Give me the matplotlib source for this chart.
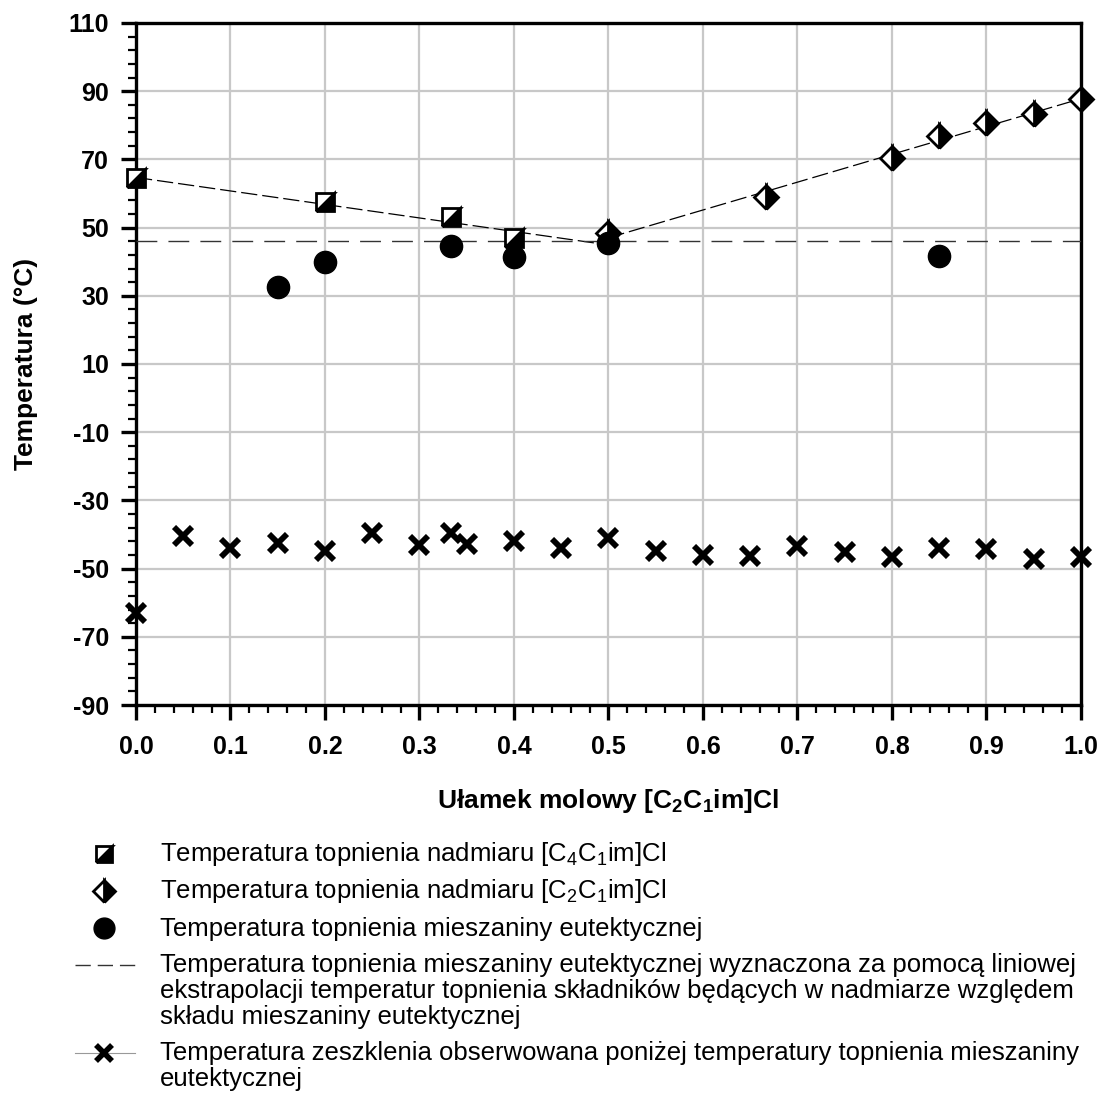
import matplotlib
matplotlib.use("Agg")
import matplotlib.pyplot as plt
from matplotlib.markers import MarkerStyle
from matplotlib.transforms import Affine2D
from matplotlib.lines import Line2D

plt.rcParams['font.family'] = ['Liberation Sans', 'DejaVu Sans']
plt.rcParams['mathtext.fontset'] = 'custom'
plt.rcParams['mathtext.rm'] = 'Liberation Sans'
plt.rcParams['mathtext.bf'] = 'Liberation Sans:bold'
plt.rcParams['axes.unicode_minus'] = False

# nadmiar [C4C1im]Cl
x_c4 = [0.0, 0.2, 0.333, 0.4]
t_c4 = [64.5, 57.4, 53.0, 46.9]
# nadmiar [C2C1im]Cl
x_c2 = [0.5, 0.667, 0.8, 0.85, 0.9, 0.95, 1.0]
t_c2 = [48.3, 58.9, 70.5, 77.0, 80.6, 83.3, 87.8]
# mieszanina eutektyczna
x_eut = [0.15, 0.2, 0.333, 0.4, 0.5, 0.85]
t_eut = [32.7, 39.8, 44.6, 41.5, 45.4, 41.7]
# ekstrapolacja
t_eut_extrap = 46.2
x_fit_left = [0.0, 0.49]
t_fit_left = [64.7, 45.3]
x_fit_right = [0.5, 1.0]
t_fit_right = [47.0, 87.8]
# zeszklenie
x_glass = [0.0, 0.05, 0.1, 0.15, 0.2, 0.25, 0.3, 0.333, 0.35, 0.4, 0.45,
           0.5, 0.55, 0.6, 0.65, 0.7, 0.75, 0.8, 0.85, 0.9, 0.95, 1.0]
t_glass = [-62.9, -40.4, -44.1, -42.4, -44.7, -39.6, -43.1, -39.5, -42.9, -41.8, -44.1,
           -41.1, -44.7, -46.0, -46.2, -43.4, -45.2, -46.5, -43.9, -44.3, -47.3, -46.5]

x_ticks = [0.0, 0.1, 0.2, 0.3, 0.4, 0.5, 0.6, 0.7, 0.8, 0.9, 1.0]
y_ticks = [-90, -70, -50, -30, -10, 10, 30, 50, 70, 90, 110]

sq_marker = MarkerStyle('D', fillstyle='right', transform=Affine2D().rotate_deg(-45))
dm_marker = MarkerStyle('D', fillstyle='right')

fig = plt.figure(figsize=(11.12, 11.04), dpi=100)
ax = fig.add_axes([0.1223, 0.3614, 0.8498, 0.6178])

ax.plot(x_fit_left, t_fit_left, color='black', lw=0.9, ls=(0, (13, 4)), zorder=3)
ax.plot(x_fit_right, t_fit_right, color='black', lw=0.9, ls=(0, (13, 4)), zorder=3)
ax.axhline(t_eut_extrap, color='#333333', lw=1.0, ls=(0, (15, 8)), zorder=3)

ax.plot(x_c4, t_c4, ls='none', marker=sq_marker, ms=13, mfc='black',
        mfcalt='white', mec='black', mew=2, zorder=4, clip_on=False)
ax.plot(x_c2, t_c2, ls='none', marker=dm_marker, ms=12, mfc='black',
        mfcalt='white', mec='black', mew=2, zorder=4, clip_on=False)
ax.plot(x_eut, t_eut, ls='none', marker='o', ms=16, color='black', zorder=5)
ax.plot(x_glass, t_glass, ls='none', marker='x', ms=13, mew=4.2, color='black',
        zorder=5, clip_on=False)

ax.set_xlim(0, 1)
ax.set_ylim(-90, 110)
ax.set_xticks(x_ticks)
ax.set_xticks([i * 0.02 for i in range(51)], minor=True)
ax.set_yticks(y_ticks)
ax.set_yticks(list(range(-90, 111, 4)), minor=True)
ax.set_xticklabels(['%.1f' % v for v in x_ticks])
ax.grid(True, which='major', color='#c8c8c8', lw=1.6, zorder=0)
ax.set_axisbelow(True)

for s in ax.spines.values():
    s.set_linewidth(2.4)
ax.tick_params(which='major', direction='out', length=10.5, width=2.4, labelsize=18)
ax.tick_params(axis='y', which='major', pad=9)
ax.tick_params(axis='x', which='major', pad=11)
ax.tick_params(which='minor', direction='out', length=6, width=1.6)
for lab in ax.get_xticklabels() + ax.get_yticklabels():
    lab.set_fontweight('bold')

ax.set_ylabel('Temperatura (°C)', fontsize=19, fontweight='bold', labelpad=22)
ax.set_xlabel(r'Ułamek molowy [C$\mathbf{_2}$C$\mathbf{_1}$im]Cl', fontsize=19,
              fontweight='bold', labelpad=20)

# legenda pod wykresem
W, H = 1112.0, 1104.0


def fx(px):
    return px / W


def fy(py):
    return 1 - py / H


hx = 104
fig.add_artist(Line2D([fx(hx)], [fy(854)], transform=fig.transFigure, ls='none',
                      marker=sq_marker, ms=12, mfc='black', mfcalt='white',
                      mec='black', mew=2))
fig.add_artist(Line2D([fx(hx)], [fy(891)], transform=fig.transFigure, ls='none',
                      marker=dm_marker, ms=11, mfc='black', mfcalt='white',
                      mec='black', mew=2))
fig.add_artist(Line2D([fx(hx)], [fy(928)], transform=fig.transFigure, ls='none',
                      marker='o', ms=15, color='black'))
fig.add_artist(Line2D([fx(75), fx(135)], [fy(965), fy(965)], transform=fig.transFigure,
                      color='#333333', lw=1.0, ls=(0, (11, 5))))
fig.add_artist(Line2D([fx(75), fx(135)], [fy(1053), fy(1053)], transform=fig.transFigure,
                      color='#999999', lw=0.8))
fig.add_artist(Line2D([fx(hx)], [fy(1053)], transform=fig.transFigure, ls='none',
                      marker='x', ms=11, mew=4, color='black'))

legend_lines = [
    (853, r'Temperatura topnienia nadmiaru [C$_4$C$_1$im]Cl'),
    (890, r'Temperatura topnienia nadmiaru [C$_2$C$_1$im]Cl'),
    (928, 'Temperatura topnienia mieszaniny eutektycznej'),
    (964, 'Temperatura topnienia mieszaniny eutektycznej wyznaczona za pomocą liniowej'),
    (990, 'ekstrapolacji temperatur topnienia składników będących w nadmiarze względem'),
    (1016, 'składu mieszaniny eutektycznej'),
    (1052, 'Temperatura zeszklenia obserwowana poniżej temperatury topnienia mieszaniny'),
    (1078, 'eutektycznej'),
]
for py, txt in legend_lines:
    fig.text(fx(160), fy(py + 8), txt, fontsize=18.5, va='baseline', ha='left')

fig.savefig('out.png', dpi=100)
